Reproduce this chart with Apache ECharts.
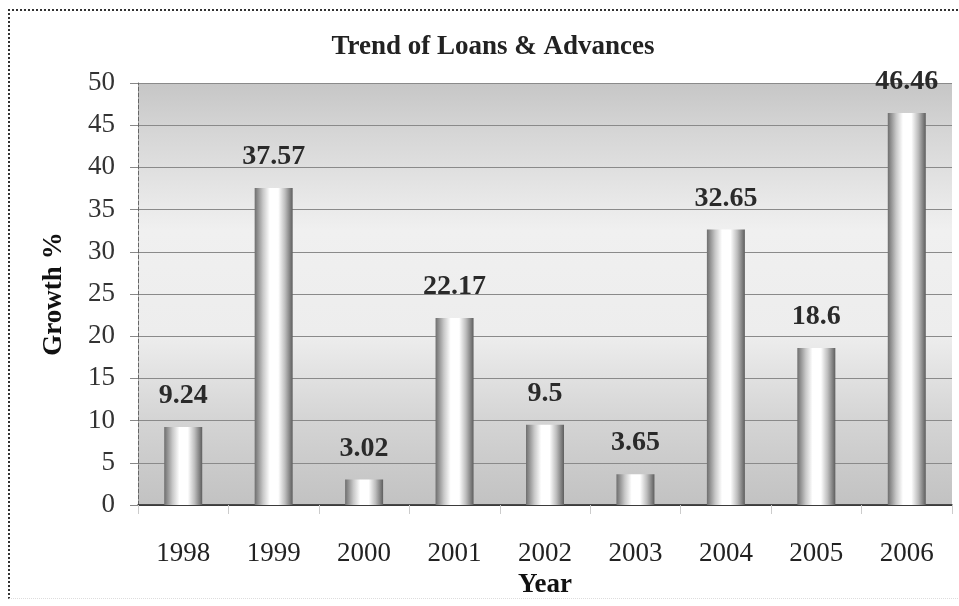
<!DOCTYPE html>
<html>
<head>
<meta charset="utf-8">
<title>Trend of Loans &amp; Advances</title>
<script src="https://cdn.jsdelivr.net/npm/echarts@6/dist/echarts.min.js"></script>
<style>
  html, body { margin: 0; padding: 0; background: #fff; }
  #chart { position: absolute; left: 0; top: 0; width: 959px; height: 606px; }
  #frame { position: absolute; left: 8px; top: 9px; width: 950px; height: 590px;
           border-top: 2px dotted #333; border-left: 2px dotted #333; border-bottom: 1px dotted #ddd;
           box-sizing: border-box; pointer-events: none; }
</style>
</head>
<body>
<div id="chart"></div>
<div id="frame"></div>
<script>
// data
var years = ['1998', '1999', '2000', '2001', '2002', '2003', '2004', '2005', '2006'];
var growth = [9.24, 37.57, 3.02, 22.17, 9.5, 3.65, 32.65, 18.6, 46.46];

var chart = echarts.init(document.getElementById('chart'));
var serif = '"Liberation Serif", "Times New Roman", serif';

var option = {
  backgroundColor: '#fff',
  animation: false,
  title: {
    text: 'Trend of Loans & Advances',
    left: 488, top: 29, textAlign: 'center',
    textStyle: { fontFamily: serif, fontSize: 27, fontWeight: 'bold', color: '#222' }
  },
  grid: {
    left: 138, right: 7, top: 83, bottom: 101,
    show: true, borderWidth: 0,
    backgroundColor: new echarts.graphic.LinearGradient(0, 0, 0, 1, [
      { offset: 0, color: '#c6c6c6' },
      { offset: 0.12, color: '#d6d6d6' },
      { offset: 0.35, color: '#f0f0f0' },
      { offset: 0.6, color: '#ededed' },
      { offset: 0.8, color: '#d4d4d4' },
      { offset: 1, color: '#c2c2c2' }
    ])
  },
  xAxis: {
    type: 'category',
    data: years,
    name: 'Year',
    nameLocation: 'middle',
    nameGap: 67,
    nameTextStyle: { fontFamily: serif, fontSize: 27, fontWeight: 'bold', color: '#111' },
    axisLine: { lineStyle: { color: '#222', width: 1.5 } },
    axisTick: { show: true, length: 9, lineStyle: { color: '#ccc' } },
    axisLabel: { fontFamily: serif, fontSize: 27, color: '#222', margin: 35 }
  },
  yAxis: {
    type: 'value',
    min: 0, max: 50, interval: 5,
    name: 'Growth %',
    nameLocation: 'middle',
    nameGap: 70,
    nameTextStyle: { fontFamily: serif, fontSize: 27, fontWeight: 'bold', color: '#111' },
    axisLine: { show: true, lineStyle: { color: '#666', type: 'dashed' } },
    axisTick: { show: true, length: 8, lineStyle: { color: '#888' } },
    axisLabel: { fontFamily: serif, fontSize: 27, color: '#333', margin: 23 },
    splitLine: { lineStyle: { color: '#8a8a8a', width: 1.2 } }
  },
  series: [{
    type: 'bar',
    data: growth,
    barWidth: 38,
    itemStyle: {
      color: new echarts.graphic.LinearGradient(0, 0, 1, 0, [
        { offset: 0, color: '#6e6e6e' },
        { offset: 0.22, color: '#c8c8c8' },
        { offset: 0.4, color: '#ffffff' },
        { offset: 0.62, color: '#ffffff' },
        { offset: 0.8, color: '#bdbdbd' },
        { offset: 1, color: '#5e5e5e' }
      ])
    },
    label: {
      show: true,
      position: 'top',
      distance: 17,
      fontFamily: serif,
      fontSize: 28,
      fontWeight: 'bold',
      color: '#2a2a2a'
    }
  }]
};

chart.setOption(option);
</script>
</body>
</html>
